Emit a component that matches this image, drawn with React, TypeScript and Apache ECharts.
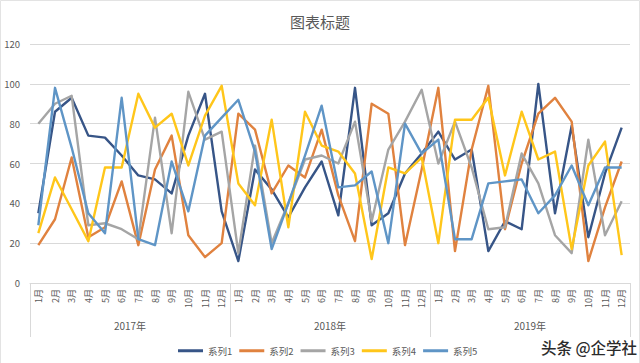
import React, { useEffect, useRef } from 'react';
import * as echarts from 'echarts';

const monthNames = ['1月', '2月', '3月', '4月', '5月', '6月', '7月', '8月', '9月', '10月', '11月', '12月'];
const years = ['2017年', '2018年', '2019年'];
const categories = years.flatMap(() => monthNames);

const seriesNames = ['系列1', '系列2', '系列3', '系列4', '系列5'];
const series1 = [35, 86, 93, 74, 73, 64, 54, 52, 45, 74, 95, 36, 11, 57, 47, 33, 48, 61, 34, 98, 29, 35, 55, 65, 76, 62, 67, 16, 31, 27, 100, 35, 79, 23, 55, 78];
const series2 = [19, 32, 63, 23, 28, 51, 19, 57, 74, 24, 13, 20, 85, 77, 45, 59, 53, 77, 44, 21, 90, 85, 19, 57, 98, 16, 67, 99, 27, 60, 85, 93, 81, 11, 38, 61];
const series3 = [80, 90, 94, 29, 30, 27, 22, 83, 25, 96, 72, 76, 15, 69, 20, 40, 62, 64, 60, 81, 31, 67, 81, 97, 60, 81, 58, 27, 28, 65, 50, 24, 15, 72, 24, 41];
const series4 = [25, 53, 37, 21, 58, 58, 95, 78, 85, 59, 84, 99, 50, 39, 82, 28, 86, 69, 66, 55, 12, 58, 55, 63, 20, 82, 82, 93, 54, 86, 62, 66, 17, 59, 71, 14];
const series5 = [29, 98, 68, 35, 25, 93, 22, 19, 61, 36, 74, 83, 92, 66, 17, 40, 64, 89, 48, 49, 56, 20, 80, 65, 72, 22, 22, 50, 51, 52, 35, 44, 59, 39, 58, 58];
const allSeries = [series1, series2, series3, series4, series5];
const colors = ['#375587', '#E0823F', '#A5A5A5', '#FFC61A', '#5F95C6'];

const titleText = '图表标题';
const watermark = '头条 @企学社';

export default function App() {
  const ref = useRef<HTMLDivElement>(null);
  useEffect(() => {
    if (!ref.current) return;
    const chart = echarts.init(ref.current, undefined, { renderer: 'svg' });
    const font = '"Noto Sans CJK SC", "Noto Sans", sans-serif';
    chart.setOption({
      animation: false,
      backgroundColor: '#ffffff',
      textStyle: { fontFamily: font },
      title: {
        text: titleText,
        left: 'center',
        top: 9,
        textStyle: { fontSize: 15, fontWeight: 'normal', color: '#595959', fontFamily: font },
      },
      grid: { left: 30, right: 10, top: 44, bottom: 80, containLabel: false },
      legend: {
        left: 173,
        top: 341,
        itemWidth: 25,
        itemHeight: 3,
        itemGap: 7,
        icon: 'rect',
        textStyle: { fontSize: 9.5, color: '#595959', fontFamily: font },
        data: seriesNames,
      },
      xAxis: [
        {
          type: 'category',
          data: categories,
          boundaryGap: true,
          axisLine: { show: true, lineStyle: { color: '#D9D9D9', width: 1 } },
          axisTick: { show: false },
          axisLabel: { interval: 0, rotate: 90, margin: 6, fontSize: 9, color: '#595959', fontFamily: font },
          splitLine: { show: false },
        },
        {
          type: 'category',
          data: years,
          position: 'bottom',
          boundaryGap: true,
          axisLine: { show: false },
          axisTick: { show: true, length: 54, lineStyle: { color: '#D9D9D9', width: 1 } },
          axisLabel: { margin: 37, fontSize: 10, color: '#595959', fontFamily: font },
          splitLine: { show: false },
        },
      ],
      yAxis: {
        type: 'value',
        min: 0,
        max: 120,
        interval: 20,
        axisLine: { show: false },
        axisTick: { show: false },
        axisLabel: { margin: 10, fontSize: 9.5, color: '#595959', fontFamily: font },
        splitLine: { lineStyle: { color: '#D9D9D9', width: 1 } },
      },
      series: allSeries.map((d, i) => ({
        name: seriesNames[i],
        type: 'line',
        data: d,
        xAxisIndex: 0,
        symbol: 'none',
        color: colors[i],
        lineStyle: { width: 2.4, color: colors[i], join: 'round' },
      })),
      graphic: [
        {
          type: 'rect',
          shape: { x: 0.5, y: 0.5, width: 639, height: 400 },
          style: { fill: 'none', stroke: '#E3E3E3', lineWidth: 1 },
          silent: true,
        },
        {
          type: 'text',
          right: 3,
          top: 339,
          style: { text: watermark, fontSize: 15.5, fontWeight: 500, fill: '#2B2B2B', fontFamily: font },
        },
      ],
    });
    return () => chart.dispose();
  }, []);
  return <div ref={ref} style={{ position: 'absolute', left: 0, top: 0, width: 640, height: 363 }} />;
}
